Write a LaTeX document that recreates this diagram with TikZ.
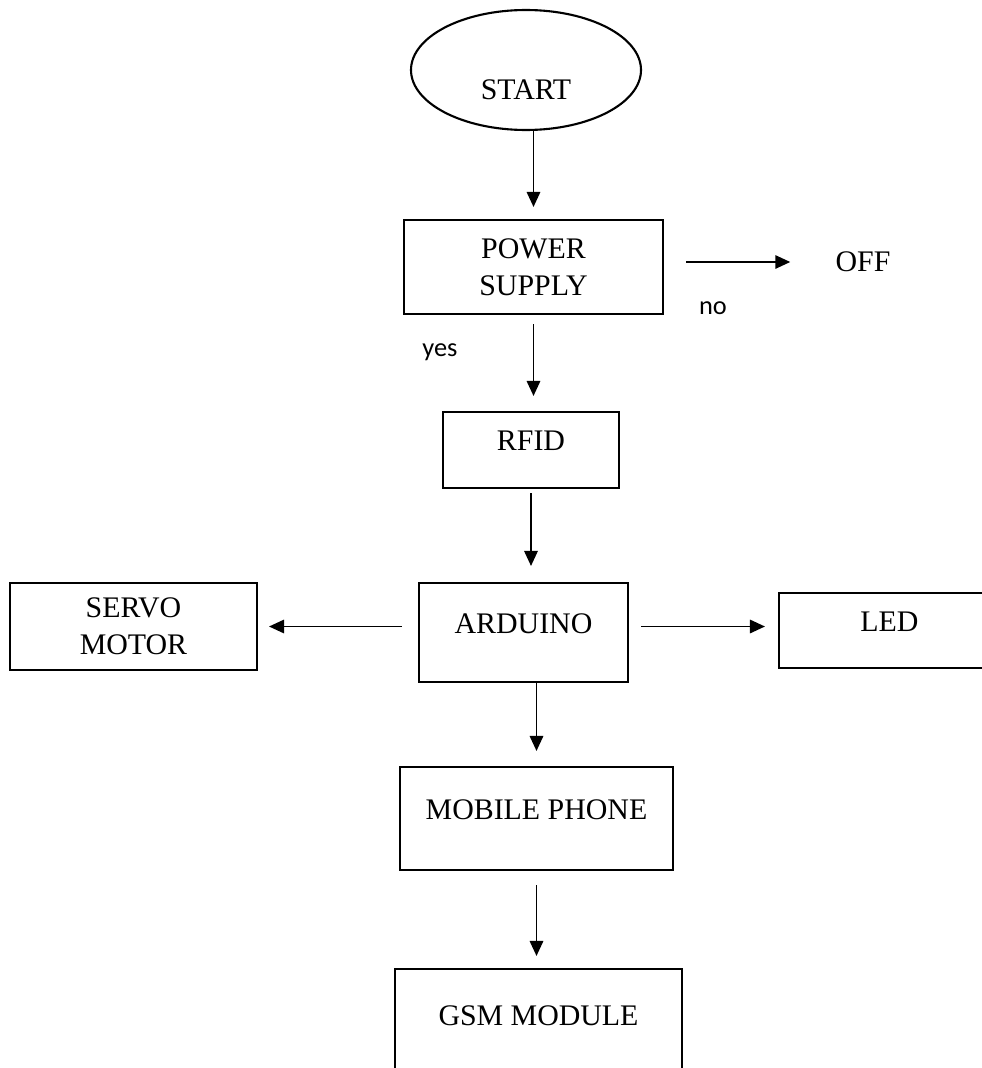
\documentclass[tikz,border=0pt]{standalone}
\usepackage{fontspec}
\setmainfont{Liberation Serif}
\newfontfamily\yesnofont{Carlito}
\usetikzlibrary{arrows.meta,shapes.geometric}
\pgfdeclarelayer{edgelayer}
\pgfdeclarelayer{nodelayer}
\pgfsetlayers{edgelayer,nodelayer,main}
\tikzset{font=\fontsize{17}{21}\selectfont}
\tikzstyle{none}=[inner sep=0pt]
\tikzstyle{terminal}=[ellipse,draw,line width=1.2pt,inner sep=0pt,minimum width=4.6cm,minimum height=2.4cm,text height=1.2cm]
\tikzstyle{block}=[rectangle,draw,line width=1.2pt,align=center]
\tikzstyle{oneline}=[block,text depth=0.36cm]
\tikzstyle{answer}=[inner sep=0pt,font=\yesnofont\fontsize{15}{18}\selectfont]
\tikzstyle{flow}=[-{Triangle[length=0.3cm,width=0.27cm]},line width=0.9pt]

\begin{document}
\begin{tikzpicture}
	\useasboundingbox (0, 0) rectangle (19.64, -21.36);
	\begin{pgfonlayer}{nodelayer}
		\node [style=terminal] (0) at (10.52, -1.40) {START};
		\node [style=block, minimum width=5.18cm, minimum height=1.88cm] (1) at (10.67, -5.34) {POWER\\SUPPLY};
		\node [style=oneline, minimum width=3.52cm, minimum height=1.52cm] (2) at (10.62, -9.00) {RFID};
		\node [style=oneline, minimum width=4.18cm, minimum height=1.98cm] (3) at (10.47, -12.65) {ARDUINO};
		\node [style=oneline, minimum width=5.46cm, minimum height=2.06cm] (4) at (10.73, -16.37) {MOBILE PHONE};
		\node [style=oneline, minimum width=5.74cm, minimum height=2.22cm] (5) at (10.77, -20.49) {GSM MODULE};
		\node [style=block, minimum width=4.94cm, minimum height=1.74cm] (6) at (2.67, -12.53) {SERVO\\MOTOR};
		\node [style=oneline, minimum width=4.42cm, minimum height=1.50cm] (7) at (17.79, -12.61) {LED};
		\node [style=none] (8) at (17.26, -5.24) {OFF};
		\node [style=answer] (9) at (14.26, -6.16) {no};
		\node [style=answer] (10) at (8.80, -7.04) {yes};
	\end{pgfonlayer}
	\begin{pgfonlayer}{edgelayer}
		\draw [style=flow, shorten >=0.24cm] (0.south -| 1.north) to (1.north);
		\draw [style=flow, shorten <=0.44cm, shorten >=0.9cm] (1.east |- 8.west) to (8.west);
		\draw [style=flow, shorten <=0.18cm, shorten >=0.30cm] (1.south) to (1.south |- 2.north);
		\draw [style=flow, shorten <=0.08cm, shorten >=0.32cm] (2.south) to (2.south |- 3.north);
		\draw [style=flow, shorten <=0.32cm, shorten >=0.22cm] (3.west |- 6.east) to (6.east);
		\draw [style=flow, shorten <=0.24cm, shorten >=0.26cm] (3.east |- 6.east) to (7.west |- 6.east);
		\draw [style=flow, shorten >=0.30cm] (3.south -| 4.north) to (4.north);
		\draw [style=flow, shorten <=0.28cm, shorten >=0.24cm] (4.south) to (4.south |- 5.north);
	\end{pgfonlayer}
\end{tikzpicture}
\end{document}
